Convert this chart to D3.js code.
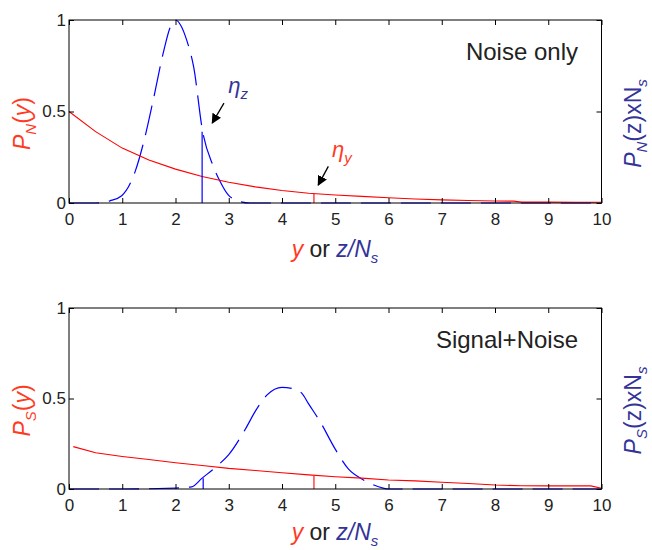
<!DOCTYPE html>
<html lang="en">
<head>
<meta charset="utf-8">
<title>Noise only / Signal+Noise</title>
<script src="https://d3js.org/d3.v7.min.js"></script>
<style>
  body { margin: 0; background: #fff; }
  svg text { font-family: "Liberation Sans", Arial, sans-serif; }
</style>
</head>
<body>
<div id="chart"></div>
<script>
// ---- data ----
var xTicks = [0, 1, 2, 3, 4, 5, 6, 7, 8, 9, 10];
var yTicks = [0, 0.5, 1];
var yTickLabels = ["0", "0.5", "1"];

// top panel: noise only
var noiseRedX = [0, 0.5, 1, 1.5, 2, 2.5, 3, 3.5, 4, 4.5, 5, 5.5, 6, 6.5, 7, 7.5, 8, 8.35, 8.5, 9, 9.5, 10];
var noiseRedY = [0.50, 0.39, 0.30, 0.235, 0.185, 0.145, 0.113, 0.088, 0.068, 0.053, 0.044, 0.036, 0.029, 0.022, 0.017, 0.014, 0.011, 0.010, 0.005, 0.005, 0.004, 0.004];
var noiseBlueX = [0, 0.5, 0.77, 0.99, 1.24, 1.40, 1.58, 1.77, 1.90, 2.0, 2.1, 2.21, 2.34, 2.51, 2.71, 2.84, 2.99, 3.15, 3.4, 4, 5, 6, 7, 8, 9, 10];
var noiseBlueY = [0, 0, 0.012, 0.04, 0.17, 0.33, 0.56, 0.82, 0.96, 1.0, 0.97, 0.89, 0.745, 0.39, 0.20, 0.116, 0.044, 0.014, 0, 0, 0, 0, 0, 0, 0, 0];

// bottom panel: signal + noise
var sigRedX = [0.08, 0.5, 1, 1.5, 2, 2.5, 3, 3.5, 4, 4.5, 5, 5.5, 6, 6.5, 7, 7.5, 8, 8.5, 9, 9.5, 9.8, 10];
var sigRedY = [0.234, 0.20, 0.18, 0.163, 0.145, 0.13, 0.114, 0.102, 0.09, 0.078, 0.068, 0.06, 0.05, 0.045, 0.037, 0.03, 0.022, 0.018, 0.017, 0.017, 0.017, 0.004];
var sigBlueX = [0, 1, 2, 2.3, 2.5, 2.77, 3.0, 3.31, 3.5, 3.72, 4.0, 4.2, 4.37, 4.5, 4.72, 5.0, 5.25, 5.5, 5.7, 5.9, 6, 7, 8, 9, 10];
var sigBlueY = [0, 0, 0.005, 0.012, 0.06, 0.125, 0.19, 0.33, 0.43, 0.52, 0.562, 0.555, 0.53, 0.47, 0.37, 0.22, 0.11, 0.055, 0.025, 0.005, 0, 0, 0, 0, 0];

// thresholds: [x, height] for z (blue) and y (red)
var etaNoise = [[2.5, 0.39], [4.6, 0.05]];
var etaSignal = [[2.52, 0.06], [4.6, 0.072]];

var RED = "#ff0000", BLUE = "#0000ff";
var LRED = "#ff3b1f", LBLUE = "#333399";

var width = 652, height = 550;
var svg = d3.select("#chart").append("svg").attr("width", width).attr("height", height);

svg.append("defs").append("marker")
  .attr("id", "arrow").attr("viewBox", "0 0 10 10")
  .attr("refX", 9).attr("refY", 5)
  .attr("markerWidth", 10).attr("markerHeight", 10)
  .attr("markerUnits", "userSpaceOnUse")
  .attr("orient", "auto")
  .append("path").attr("d", "M0,0 L10,5 L0,10 z").attr("fill", "#000");

function subLabel(sel, parts) {
  // parts: [text, italic, sub, color, dy]
  parts.forEach(function (p) {
    var t = sel.append("tspan").text(p[0]).attr("fill", p[3]);
    if (p[1]) t.attr("font-style", "italic");
    if (p[2]) t.attr("font-size", "15px").attr("dy", 6);
    if (p[4]) t.attr("dy", p[4]);
  });
}

function panel(top, bottom, xlabY, redX, redY, blueX, blueY, eta, title, sub) {
  var x = d3.scaleLinear().domain([0, 10]).range([69, 601.5]);
  var y = d3.scaleLinear().domain([0, 1]).range([bottom, top]);
  var g = svg.append("g");

  var line = d3.line().x(function (d) { return x(d[0]); }).y(function (d) { return y(d[1]); });

  g.append("path")
    .attr("d", line.curve(d3.curveMonotoneX)(d3.zip(blueX, blueY)))
    .attr("fill", "none").attr("stroke", BLUE).attr("stroke-width", 1.2)
    .attr("stroke-dasharray", "30,10");
  g.append("path")
    .attr("d", line.curve(d3.curveLinear)(d3.zip(redX, redY)))
    .attr("fill", "none").attr("stroke", RED).attr("stroke-width", 1.1);

  // threshold stems
  g.append("line").attr("x1", x(eta[0][0])).attr("x2", x(eta[0][0]))
    .attr("y1", y(0)).attr("y2", y(eta[0][1])).attr("stroke", BLUE).attr("stroke-width", 1.2);
  g.append("line").attr("x1", x(eta[1][0])).attr("x2", x(eta[1][0]))
    .attr("y1", y(0)).attr("y2", y(eta[1][1])).attr("stroke", RED).attr("stroke-width", 1.1);

  // axes with inward ticks
  g.append("g").attr("transform", "translate(0," + bottom + ")")
    .call(d3.axisBottom(x).tickValues(xTicks).tickSize(-5).tickSizeOuter(0).tickPadding(10))
    .call(function (a) { a.select(".domain").remove(); a.selectAll("text").attr("font-size", "17px").attr("fill", "#222").attr("font-family", null); });
  g.append("g").attr("transform", "translate(0," + top + ")")
    .call(d3.axisTop(x).tickValues(xTicks).tickSize(-5).tickSizeOuter(0).tickFormat(""))
    .call(function (a) { a.select(".domain").remove(); });
  g.append("g").attr("transform", "translate(69,0)")
    .call(d3.axisLeft(y).tickValues(yTicks).tickSize(-5).tickSizeOuter(0).tickPadding(3)
      .tickFormat(function (d, i) { return yTickLabels[i]; }))
    .call(function (a) { a.select(".domain").remove(); a.selectAll("text").attr("font-size", "17px").attr("fill", "#222").attr("font-family", null); });
  g.append("g").attr("transform", "translate(601.5,0)")
    .call(d3.axisRight(y).tickValues(yTicks).tickSize(-5).tickSizeOuter(0).tickFormat(""))
    .call(function (a) { a.select(".domain").remove(); });

  g.append("rect").attr("x", 69).attr("y", top).attr("width", 532.5).attr("height", bottom - top)
    .attr("fill", "none").attr("stroke", "#000").attr("stroke-width", 1);

  g.append("text").attr("x", 578).attr("y", top + 40).attr("text-anchor", "end")
    .attr("font-size", "24px").attr("fill", "#222").text(title);

  // axis labels
  var xl = g.append("text").attr("x", 335).attr("y", xlabY).attr("text-anchor", "middle")
    .attr("font-size", "23px");
  subLabel(xl, [["y", true, false, LRED], [" or ", false, false, "#222"], ["z/N", true, false, LBLUE], ["s", true, true, LBLUE]]);

  var yl = g.append("text").attr("transform", "translate(30," + (y(0.5) + 12) + ") rotate(-90)")
    .attr("text-anchor", "middle").attr("font-size", "23px");
  subLabel(yl, [["P", true, false, LRED], [sub, true, true, LRED], ["(", false, false, LRED, -6], ["y", true, false, LRED], [")", false, false, LRED]]);

  var yr = g.append("text").attr("transform", "translate(641," + (y(0.5) + 12) + ") rotate(-90)")
    .attr("text-anchor", "middle").attr("font-size", "23px");
  subLabel(yr, [["P", true, false, LBLUE], [sub, true, true, LBLUE], ["(z)xN", false, false, LBLUE, -6], ["s", true, true, LBLUE]]);

  return { x: x, y: y, g: g };
}

var p1 = panel(20, 203, 257, noiseRedX, noiseRedY, noiseBlueX, noiseBlueY, etaNoise, "Noise only", "N");
panel(308, 489, 540, sigRedX, sigRedY, sigBlueX, sigBlueY, etaSignal, "Signal+Noise", "S");

// annotations in the top panel
var ann = [
  { text: "\u03b7", sub: "z", color: LBLUE, tx: 2.99, ty: 0.6, ax: [2.91, 0.546], at: [2.69, 0.437] },
  { text: "\u03b7", sub: "y", color: LRED, tx: 4.94, ty: 0.25, ax: [4.87, 0.20], at: [4.68, 0.098] }
];
ann.forEach(function (a) {
  var t = p1.g.append("text").attr("x", p1.x(a.tx)).attr("y", p1.y(a.ty)).attr("font-size", "22px");
  subLabel(t, [[a.text, true, false, a.color], [a.sub, true, true, a.color]]);
  p1.g.append("line")
    .attr("x1", p1.x(a.ax[0])).attr("y1", p1.y(a.ax[1]))
    .attr("x2", p1.x(a.at[0])).attr("y2", p1.y(a.at[1]))
    .attr("stroke", "#000").attr("stroke-width", 1.3).attr("marker-end", "url(#arrow)");
});
</script>
</body>
</html>
